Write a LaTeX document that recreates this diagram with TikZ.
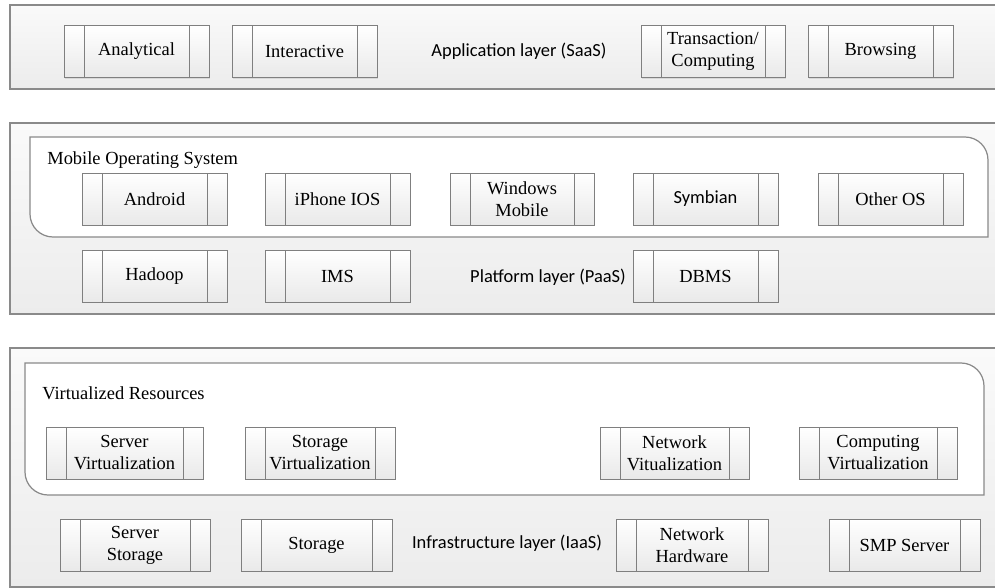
\documentclass[tikz,border=0pt]{standalone}
\usepackage{fontspec}
\setmainfont{Liberation Serif}
\newfontfamily\labelfont{Carlito}
\usetikzlibrary{positioning,shadows}
\definecolor{edgegray}{HTML}{7F7F7F}
\definecolor{boxgray}{HTML}{E9E9E9}
\definecolor{layertop}{HTML}{FAFAFA}
\definecolor{layerbot}{HTML}{ECECEC}
\definecolor{rimgray}{HTML}{8A8A8A}

\begin{document}
\begin{tikzpicture}[x=0.02cm,y=-0.02cm,
  every node/.style={font=\fontsize{10.5}{12.5}\selectfont},
  proc/.style={draw=edgegray, top color=white, bottom color=boxgray,
    minimum width=#1, minimum height=1.04cm, inner sep=0pt, align=center,
    drop shadow={shadow xshift=0.8pt,shadow yshift=-0.8pt,opacity=0.2},
    path picture={
      \draw[edgegray] ([xshift=0.4cm]path picture bounding box.north west) -- ([xshift=0.4cm]path picture bounding box.south west)
        ([xshift=-0.4cm]path picture bounding box.north east) -- ([xshift=-0.4cm]path picture bounding box.south east);}},
  proc/.default=2.9cm,
  layer/.style={top color=layertop, bottom color=layerbot, draw=rimgray, line width=0.7pt},
  rim/.style={rimgray, line width=1.4pt},
  group/.style={draw=rimgray, fill=white, line width=0.7pt},
  laylabel/.style={font=\labelfont\fontsize{10.5}{12.5}\selectfont},
  grplabel/.style={anchor=west, inner sep=0pt}]
\path[use as bounding box, clip] (0,0) rectangle (995,588);

% application layer
\path[layer] (10,5) rectangle (1002,89);
\draw[rim] (10,5) -- (1002,5);
\node[proc] (ana) at (136.5,51.5) {Analytical};
\node[proc] (inter) at (304.5,51.5) {Interactive};
\node[laylabel] (saas) at (519,51) {Application layer (SaaS)};
\node[proc=2.88cm] (trans) at (713,51.5) {Transaction/\\Computing};
\node[proc] (brows) at (880.5,51.5) {Browsing};

% platform layer
\path[layer] (10,123) rectangle (1002,314);
\draw[rim] (10,123) -- (1002,123);
\draw[group] (30,137) -- (965,137) .. controls (977.7,137) and (988,147.3) .. (988,160)
  -- (988,237) -- (53,237) .. controls (40.3,237) and (30,226.7) .. (30,214) -- cycle;
\node[grplabel] (mos) at (47,160) {Mobile Operating System};
\node[proc] (andr) at (154.5,199) {Android};
\node[proc] (ios) at (337.5,199) {iPhone IOS};
\node[proc=2.88cm] (winm) at (522,199) {Windows\\Mobile};
\node[proc, font=\labelfont\fontsize{10.5}{12.5}\selectfont] (symb) at (705.5,199) {Symbian};
\node[proc] (other) at (890.5,199) {Other OS};
\node[proc] (hadp) at (154.5,276) {Hadoop};
\node[proc] (ims) at (337.5,276) {IMS};
\node[laylabel] (paas) at (548,277) {Platform layer (PaaS)};
\node[proc] (dbms) at (705.5,276) {DBMS};

% infrastructure layer
\path[layer] (10,348) rectangle (1002,587);
\draw[rim] (10,348) -- (1002,348);
\draw[group] (25,363) -- (961,363) .. controls (973.7,363) and (984,373.3) .. (984,386)
  -- (984,495) -- (48,495) .. controls (35.3,495) and (25,484.7) .. (25,472) -- cycle;
\node[grplabel] (vres) at (42,393) {Virtualized Resources};
\node[proc=3.14cm] (srvv) at (124.5,453) {Server\\Virtualization};
\node[proc=3cm] (stov) at (320,453) {Storage\\Virtualization};
\node[proc=2.98cm] (netv) at (674.5,453) {Network\\Vitualization};
\node[proc=3.16cm] (compv) at (878,453) {Computing\\Virtualization};
\node[proc=3cm] (srvs) at (135,545) {Server\\Storage};
\node[proc=3.02cm] (stor) at (316.5,545) {Storage};
\node[laylabel] (iaas) at (507,543) {Infrastructure layer (IaaS)};
\node[proc=3.04cm] (nethw) at (692,545) {Network\\Hardware};
\node[proc=3.02cm] (smp) at (904.5,545) {SMP Server};
\end{tikzpicture}
\end{document}
